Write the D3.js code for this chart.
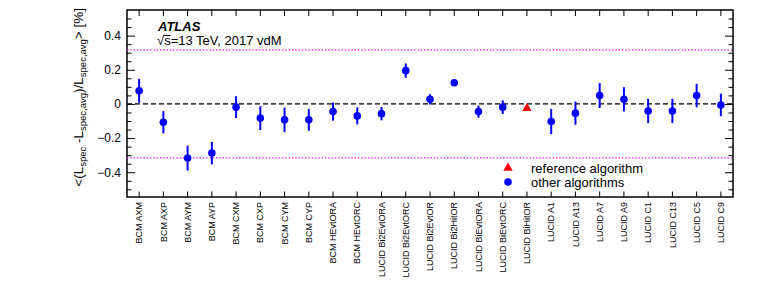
<!DOCTYPE html>
<html>
<head>
<meta charset="utf-8">
<script src="https://cdn.jsdelivr.net/npm/d3@7"></script>
<style>
  body { margin: 0; background: #fff; }
  svg { font-family: "Liberation Sans", Arial, Helvetica, sans-serif; }
  .axis path { display: none; }
  .axis line { stroke: #000; stroke-width: 1; }
</style>
</head>
<body>
<svg id="svg1"></svg>
<script>
// algorithms along the x axis
const algorithms = ["BCM AXM", "BCM AXP", "BCM AYM", "BCM AYP", "BCM CXM", "BCM CXP",
  "BCM CYM", "BCM CYP", "BCM HEvtORA", "BCM HEvtORC", "LUCID Bi2EvtORA", "LUCID Bi2EvtORC",
  "LUCID Bi2EvtOR", "LUCID Bi2HitOR", "LUCID BiEvtORA", "LUCID BiEvtORC", "LUCID BiHitOR",
  "LUCID A1", "LUCID A13", "LUCID A7", "LUCID A9", "LUCID C1", "LUCID C13", "LUCID C5", "LUCID C9"];
// mean relative deviation [%] and its error
const meanDev = [0.077, -0.107, -0.317, -0.288, -0.019, -0.083, -0.093, -0.093, -0.045, -0.070,
  -0.057, 0.195, 0.027, 0.124, -0.045, -0.019, -0.025, -0.103, -0.054, 0.049, 0.027, -0.041,
  -0.041, 0.049, -0.006];
const devErr = [0.070, 0.065, 0.073, 0.066, 0.064, 0.070, 0.072, 0.064, 0.053, 0.050,
  0.039, 0.042, 0.030, 0.010, 0.035, 0.040, 0, 0.074, 0.068, 0.073, 0.071, 0.071,
  0.071, 0.069, 0.066];
const refAlgorithm = "LUCID BiHitOR";
const bandLimits = [-0.316, 0.316];
const yMajorTicks = [-0.4, -0.2, 0, 0.2, 0.4];
const yMinorTicks = [-0.5, -0.45, -0.35, -0.3, -0.25, -0.15, -0.1, -0.05, 0.05, 0.1, 0.15, 0.25, 0.3, 0.35, 0.45, 0.5];
const legendLabels = ["reference algorithm", "other algorithms"];

const W = 763, H = 285;
const marginLeft = 127, marginRight = 30, marginTop = 10, marginBottom = 88;
const width = W - marginLeft - marginRight;
const height = H - marginTop - marginBottom;

const svg = d3.select("#svg1").attr("width", W).attr("height", H);
svg.append("rect").attr("width", W).attr("height", H).attr("fill", "#fff");

const chart = svg.append("g").attr("transform", `translate(${marginLeft}, ${marginTop})`);

const xScale = d3.scaleBand().domain(algorithms).range([0, width]).padding(0);
const xc = d => xScale(d) + xScale.bandwidth() / 2;
const yScale = d3.scaleLinear().domain([-0.545, 0.55]).range([height, 0]);

const fmt = d => d === 0 ? "0" : d3.format(".1f")(d).replace("-", "\u2212");

// y axes, ticks pointing inside
chart.append("g").attr("class", "axis")
  .call(d3.axisLeft(yScale).tickValues(yMajorTicks).tickSize(-8).tickPadding(6).tickFormat(fmt))
  .selectAll("text").style("font-size", "12px").attr("fill", "#000");
chart.append("g").attr("class", "axis")
  .call(d3.axisLeft(yScale).tickValues(yMinorTicks).tickSize(-4.5).tickFormat(""));
chart.append("g").attr("class", "axis").attr("transform", `translate(${width}, 0)`)
  .call(d3.axisRight(yScale).tickValues(yMajorTicks).tickSize(-8).tickFormat(""));
chart.append("g").attr("class", "axis").attr("transform", `translate(${width}, 0)`)
  .call(d3.axisRight(yScale).tickValues(yMinorTicks).tickSize(-4.5).tickFormat(""));

// x axes
chart.append("g").attr("class", "axis")
  .call(d3.axisTop(xScale).tickSize(-6).tickFormat(""));
chart.append("g").attr("class", "axis").attr("transform", `translate(0, ${height})`)
  .call(d3.axisBottom(xScale).tickSize(-5.5))
  .selectAll("text")
    .attr("transform", "rotate(-90)")
    .attr("x", -5).attr("y", 0).attr("dy", "0.35em")
    .style("text-anchor", "end").style("font-size", "9px").attr("fill", "#000");

// frame
chart.append("rect").attr("width", width).attr("height", height)
  .attr("fill", "none").attr("stroke", "#000").attr("stroke-width", 1.5);

// dotted band limits
chart.selectAll(".band").data(bandLimits).enter().append("line")
  .attr("class", "band")
  .attr("x1", 0).attr("x2", width)
  .attr("y1", d => yScale(d)).attr("y2", d => yScale(d))
  .attr("stroke", "#ff00ff").attr("stroke-width", 1.3).attr("stroke-dasharray", "1.3,2");

// zero line
chart.append("line")
  .attr("x1", 0).attr("x2", width).attr("y1", yScale(0)).attr("y2", yScale(0))
  .attr("stroke", "#000").attr("stroke-width", 1.3).attr("stroke-dasharray", "5,3");

const data = algorithms.map((a, i) => ({ name: a, v: meanDev[i], e: devErr[i] }));
const others = data.filter(d => d.name !== refAlgorithm);
const ref = data.filter(d => d.name === refAlgorithm);

chart.selectAll(".err").data(others).enter().append("line")
  .attr("class", "err")
  .attr("x1", d => xc(d.name)).attr("x2", d => xc(d.name))
  .attr("y1", d => yScale(d.v + d.e)).attr("y2", d => yScale(d.v - d.e))
  .attr("stroke", "#0000ff").attr("stroke-width", 2);

chart.selectAll(".pt").data(others).enter().append("circle")
  .attr("class", "pt")
  .attr("cx", d => xc(d.name)).attr("cy", d => yScale(d.v))
  .attr("r", 3.8).attr("fill", "#0000ff");

const tri = d3.symbol().type(d3.symbolTriangle).size(38);
chart.selectAll(".ref").data(ref).enter().append("path")
  .attr("class", "ref")
  .attr("d", tri)
  .attr("transform", d => `translate(${xc(d.name)}, ${yScale(d.v)})`)
  .attr("fill", "#ff0000");

// legend
const legend = svg.append("g").attr("transform", "translate(508, 168)");
legend.append("path").attr("d", tri).attr("fill", "#ff0000");
legend.append("circle").attr("cy", 14).attr("r", 3.8).attr("fill", "#0000ff");
legend.selectAll(".lt").data(legendLabels).enter().append("text")
  .attr("class", "lt")
  .attr("x", 23).attr("y", (d, i) => 5 + i * 14)
  .style("font-size", "13px").text(d => d);

// ATLAS label
svg.append("text").attr("x", 158).attr("y", 31)
  .style("font-size", "13px").style("font-weight", "bold").style("font-style", "italic")
  .text("ATLAS");
const sq = svg.append("text").attr("x", 157).attr("y", 45).style("font-size", "13px");
sq.append("tspan").text("\u221A");
sq.append("tspan").text("s=13 TeV, 2017 vdM");
// overline of the square root, over the "s"
svg.append("line").attr("x1", 163.5).attr("x2", 170.5).attr("y1", 35.5).attr("y2", 35.5)
  .attr("stroke", "#000").attr("stroke-width", 1);

// y axis title
const yt = svg.append("text")
  .attr("transform", "translate(83, 8) rotate(-90)")
  .style("text-anchor", "end").style("font-size", "13.5px");
const sub = (t) => yt.append("tspan").attr("baseline-shift", "-25%").style("font-size", "9.5px").text(t);
const main = (t) => yt.append("tspan").attr("baseline-shift", "0").text(t);
main("<(L"); sub("spec"); main(" -L"); sub("spec,avg"); main(")/L"); sub("spec,avg"); main("> [%]");
</script>
</body>
</html>
